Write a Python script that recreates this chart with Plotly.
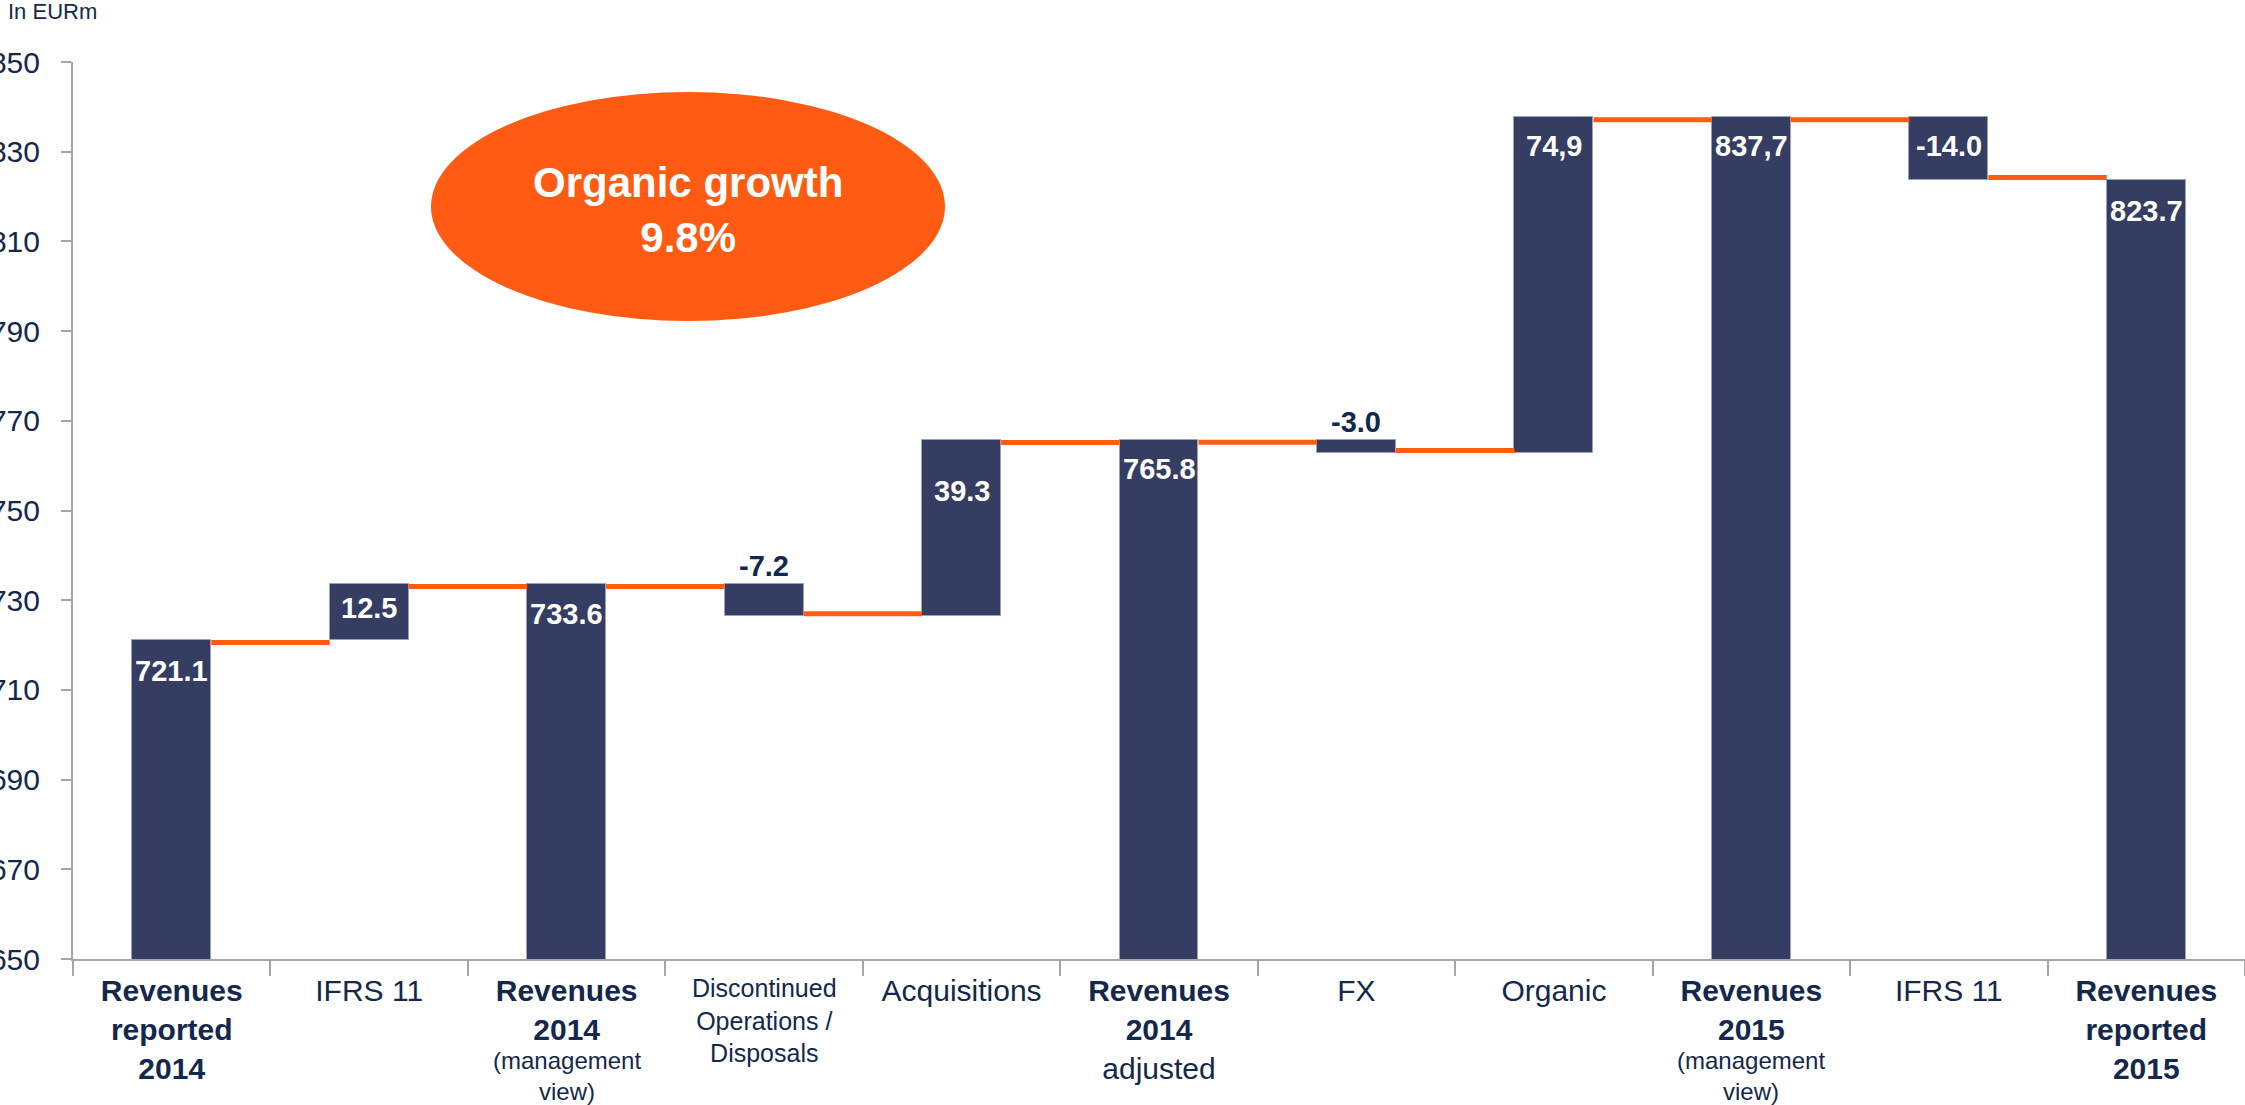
import plotly.graph_objects as go

# ---- data -------------------------------------------------------------
tick_labels = [
    "<b>Revenues<br>reported<br>2014</b>",
    "IFRS 11",
    "<b>Revenues<br>2014</b>",
    "",
    "Acquisitions",
    "<b>Revenues<br>2014</b><br>adjusted",
    "FX",
    "Organic",
    "<b>Revenues<br>2015</b>",
    "IFRS 11",
    "<b>Revenues<br>reported<br>2015</b>",
]
values = [721.1, 12.5, 733.6, -7.2, 39.3, 765.8, -3.0, 74.9, 837.7, -14.0, 823.7]
kinds = ["total", "delta", "total", "delta", "delta", "total",
         "delta", "delta", "total", "delta", "total"]
value_labels = ["721.1", "12.5", "733.6", "-7.2", "39.3", "765.8",
                "-3.0", "74,9", "837,7", "-14.0", "823.7"]
sub_labels = {2: "(management<br>view)",
              3: "Discontinued<br>Operations /<br>Disposals",
              8: "(management<br>view)"}
y_ticks = [650, 670, 690, 710, 730, 750, 770, 790, 810, 830, 850]
callout_text = "<b>Organic growth<br>9.8%</b>"
unit_text = "In EURm"

# ---- styles -----------------------------------------------------------
FONT = "Liberation Sans, Arial, Helvetica, sans-serif"
NAVY = "#13284c"
BAR = "#353d62"
ORANGE = "#ff5b12"
GREY = "#a6a6a6"
BAR_W = 0.4
# vertical pixel shift of each value label from the top of its bar
label_shift = [-31, -24, -30, 18, -51, -29, 18, -29, -29, -29, -31]

W, H = 2245, 1105
M_L, M_R, M_T, M_B = 73, 0, 62, 146
plot_h = H - M_T - M_B
plot_w = W - M_L - M_R


def px_x(px):
    return (px - M_L) / plot_w


def px_y(py):
    return (H - M_B - py) / plot_h


# ---- waterfall geometry from the values ---------------------------------
bases, heights, tops, levels = [], [], [], []
level = 0.0
for v, k in zip(values, kinds):
    if k == "total":
        bases.append(0.0)
        heights.append(v)
        level = v
    else:
        bases.append(level)
        heights.append(v)
        level = level + v
    tops.append(max(bases[-1], bases[-1] + heights[-1]))
    levels.append(level)

x = list(range(len(values)))

fig = go.Figure()
fig.add_trace(go.Bar(
    x=x, y=heights, base=bases, width=BAR_W,
    marker=dict(color=BAR, line=dict(color="#9ba1b8", width=1)),
    hoverinfo="skip", showlegend=False,
))

shapes = []
# orange connectors between consecutive bars at the running level
for i in range(len(values) - 1):
    falling = kinds[i] == "delta" and values[i] < 0
    shapes.append(dict(
        type="rect", xref="x", yref="y", ysizemode="pixel",
        yanchor=levels[i], y0=0 if falling else -5, y1=5 if falling else 0,
        x0=i + BAR_W / 2, x1=i + 1 - BAR_W / 2,
        fillcolor=ORANGE, line=dict(width=0), layer="above",
    ))

# callout ellipse
shapes.append(dict(
    type="circle", xref="paper", yref="paper",
    x0=px_x(431), x1=px_x(945), y0=px_y(321), y1=px_y(92),
    fillcolor=ORANGE, line=dict(width=0), layer="above",
))

annotations = []
for i, (t, s) in enumerate(zip(value_labels, label_shift)):
    annotations.append(dict(
        x=i, y=tops[i], xref="x", yref="y", text=f"<b>{t}</b>",
        showarrow=False, yanchor="middle", xanchor="center", yshift=s,
        font=dict(family=FONT, size=29, color="white" if s < 0 else NAVY),
    ))

sub_pos = {2: (1076, 24), 3: (1020, 25), 8: (1076, 24)}
for i, txt in sub_labels.items():
    py, fs = sub_pos[i]
    annotations.append(dict(
        x=i, y=px_y(py), xref="x", yref="paper", text=txt,
        showarrow=False, yanchor="middle", xanchor="center",
        font=dict(family=FONT, size=fs, color=NAVY),
    ))

annotations.append(dict(
    x=px_x(688), y=px_y(210), xref="paper", yref="paper", text=callout_text,
    showarrow=False, xanchor="center", yanchor="middle",
    font=dict(family=FONT, size=42, color="white"),
))
annotations.append(dict(
    x=px_x(6), y=px_y(12), xref="paper", yref="paper", text=unit_text,
    showarrow=False, xanchor="left", yanchor="middle",
    font=dict(family=FONT, size=22, color=NAVY),
))

fig.update_layout(
    width=W, height=H, autosize=False,
    margin=dict(l=M_L, r=M_R, t=M_T, b=M_B, pad=0, autoexpand=False),
    paper_bgcolor="white", plot_bgcolor="white",
    font=dict(family=FONT, color=NAVY),
    shapes=shapes, annotations=annotations,
    bargap=0,
    xaxis=dict(
        range=[-0.5, len(values) - 0.5], tickmode="array", tickvals=x,
        ticktext=tick_labels, ticks="", showline=True, linecolor=GREY,
        linewidth=2, showgrid=False, zeroline=False, automargin=False,
        tickfont=dict(family=FONT, size=30, color=NAVY),
        minor=dict(tickmode="array", tickvals=[i - 0.5 for i in range(len(values) + 1)],
                   ticks="outside", ticklen=15, tickwidth=2, tickcolor=GREY),
        ticklabelstandoff=4,
    ),
    yaxis=dict(
        range=[650, 850], tickmode="array", tickvals=y_ticks,
        ticks="outside", ticklen=10, tickwidth=2, tickcolor=GREY,
        showline=True, linecolor=GREY, linewidth=2, automargin=False,
        showgrid=False, zeroline=False,
        tickfont=dict(family=FONT, size=30, color=NAVY),
        ticklabelstandoff=15,
    ),
)

fig.write_html("out.html")
